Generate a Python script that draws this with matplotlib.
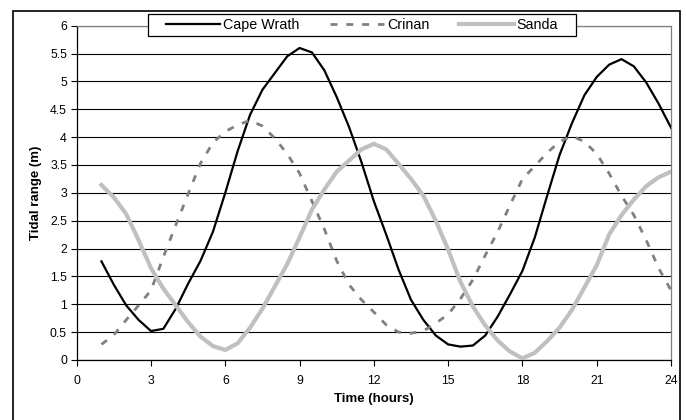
import matplotlib
matplotlib.use("Agg")
import matplotlib.pyplot as plt
from matplotlib.patches import Rectangle

plt.rcParams['font.family'] = ['Liberation Sans', 'DejaVu Sans']

hours = [1 + 0.5 * i for i in range(47)]

cape_wrath = [1.77, 1.35, 0.98, 0.72, 0.52, 0.56, 0.92, 1.37, 1.78, 2.30,
              3.00, 3.75, 4.40, 4.85, 5.15, 5.45, 5.60, 5.52, 5.20, 4.72,
              4.18, 3.55, 2.85, 2.25, 1.62, 1.08, 0.72, 0.44, 0.28, 0.24,
              0.26, 0.44, 0.78, 1.18, 1.60, 2.20, 2.95, 3.68, 4.25, 4.75,
              5.08, 5.30, 5.40, 5.27, 4.98, 4.60, 4.17]

crinan = [0.28, 0.45, 0.72, 0.98, 1.25, 1.85, 2.42, 2.98, 3.53, 3.90,
          4.10, 4.22, 4.30, 4.20, 3.98, 3.70, 3.35, 2.85, 2.35, 1.78,
          1.35, 1.08, 0.86, 0.63, 0.50, 0.48, 0.52, 0.66, 0.82, 1.10,
          1.44, 1.88, 2.30, 2.78, 3.25, 3.48, 3.72, 3.92, 4.02, 3.92,
          3.70, 3.35, 2.95, 2.60, 2.15, 1.65, 1.25]

sanda = [3.14, 2.92, 2.62, 2.15, 1.65, 1.28, 0.98, 0.68, 0.42, 0.25,
         0.18, 0.30, 0.58, 0.92, 1.32, 1.72, 2.20, 2.70, 3.06, 3.38,
         3.58, 3.78, 3.88, 3.78, 3.52, 3.25, 2.95, 2.50, 1.98, 1.40,
         0.96, 0.62, 0.35, 0.15, 0.03, 0.13, 0.34, 0.58, 0.90, 1.30,
         1.70, 2.25, 2.60, 2.88, 3.12, 3.28, 3.38]

x_ticks = [0, 3, 6, 9, 12, 15, 18, 21, 24]
y_ticks = [0, 0.5, 1, 1.5, 2, 2.5, 3, 3.5, 4, 4.5, 5, 5.5, 6]
y_tick_labels = ['0', '0.5', '1', '1.5', '2', '2.5', '3', '3.5', '4', '4.5', '5', '5.5', '6']

W, H = 686, 420
fig = plt.figure(figsize=(W / 100, H / 100), dpi=100)
# outer chart border
fig.patches.append(Rectangle((12.5 / W, -5 / H), 667.5 / W, (H - 11 + 5) / H,
                             transform=fig.transFigure, fill=False,
                             edgecolor='black', linewidth=1.2, zorder=0))

ax = fig.add_axes([76.7 / W, 60 / H, (671 - 76.7) / W, (360 - 25.7) / H])

ax.plot(hours, cape_wrath, color='black', linewidth=1.6, label='Cape Wrath', zorder=3)
ax.plot(hours, crinan, color='#808080', linewidth=2.0, linestyle=(0, (2.5, 3.2)),
        label='Crinan', zorder=4)
ax.plot(hours, sanda, color='#c0c0c0', linewidth=3.0, label='Sanda', zorder=5)

ax.set_xlim(0, 24)
ax.set_ylim(0, 6)
ax.set_xticks(x_ticks)
ax.set_yticks(y_ticks)
ax.set_yticklabels(y_tick_labels)
ax.tick_params(axis='both', labelsize=8.8, length=4, width=0.8, color='black', pad=3)
ax.tick_params(axis='x', pad=7)

ax.yaxis.grid(True, color='black', linewidth=0.8)
ax.set_axisbelow(True)

ax.spines['left'].set_color('black')
ax.spines['bottom'].set_color('black')
ax.spines['top'].set_color('#808080')
ax.spines['right'].set_color('#808080')
for s in ax.spines.values():
    s.set_linewidth(0.9)

ax.set_xlabel('Time (hours)', fontsize=9.5, fontweight='bold', labelpad=4)
ax.set_ylabel('Tidal range (m)', fontsize=9.5, fontweight='bold', labelpad=6)

# legend box (drawn above the axes content)
box_l, box_r, box_t, box_b = 148, 576, 14, 36
legend_box = Rectangle((box_l / W, 1 - box_b / H), (box_r - box_l) / W,
                       (box_b - box_t) / H, transform=fig.transFigure,
                       facecolor='white', edgecolor='black', linewidth=0.9,
                       zorder=9, clip_on=False)
ax.add_artist(legend_box)
leg = ax.legend(loc='center', bbox_to_anchor=((box_l + box_r) / 2 / W, 1 - (box_t + box_b) / 2 / H),
                bbox_transform=fig.transFigure, ncol=3, frameon=False,
                fontsize=10.3, handlelength=3.8, handletextpad=0.2,
                columnspacing=2.1, borderpad=0.0, borderaxespad=0)
leg.set_zorder(10)

fig.savefig('out.png', dpi=100)
